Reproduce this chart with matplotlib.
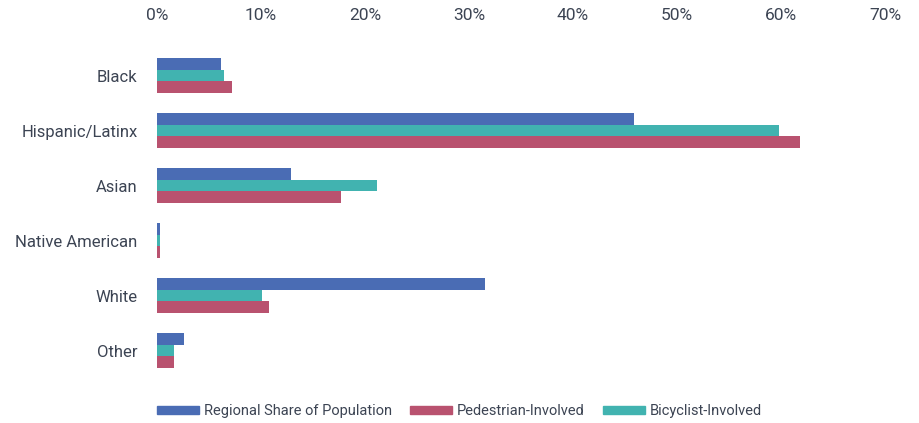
import matplotlib
matplotlib.use("Agg")
import matplotlib.pyplot as plt
import numpy as np
from matplotlib.patches import Patch

categories = ["Black", "Hispanic/Latinx", "Asian", "Native American", "White", "Other"]
population = [6.2, 45.9, 12.9, 0.3, 31.5, 2.6]
bicyclist = [6.4, 59.8, 21.2, 0.3, 10.1, 1.6]
pedestrian = [7.2, 61.8, 17.7, 0.3, 10.8, 1.6]
xticks = [0, 10, 20, 30, 40, 50, 60, 70]
xtick_labels = ["0%", "10%", "20%", "30%", "40%", "50%", "60%", "70%"]

BLUE = "#4a6cb4"
TEAL = "#41b3b0"
PINK = "#b9526f"
TXT = "#3c4453"

plt.rcParams['font.family'] = ['Roboto', 'DejaVu Sans']

W, H = 920, 423
fig = plt.figure(figsize=(W / 100, H / 100), dpi=100)
ax = fig.add_axes([157 / W, (H - 378) / H, 728 / W, 330 / H])

y = np.arange(len(categories))
bh = 0.212
ax.barh(y - bh, population, height=bh, color=BLUE)
ax.barh(y, bicyclist, height=bh, color=TEAL)
ax.barh(y + bh, pedestrian, height=bh, color=PINK)

ax.set_xlim(0, 70)
ax.set_ylim(len(categories) - 0.5, -0.5)
ax.set_yticks(y)
ax.set_yticklabels(categories, fontsize=12, color=TXT)
ax.set_xticks(xticks)
ax.set_xticklabels(xtick_labels, fontsize=12.5, color=TXT)
for lbl in ax.get_xticklabels():
    lbl.set_x(lbl.get_position()[0])
ax.xaxis.tick_top()
ax.tick_params(axis='x', length=0, pad=18)
ax.tick_params(axis='y', length=0, pad=14)
for s in ax.spines.values():
    s.set_visible(False)

handles = [Patch(color=BLUE, label="Regional Share of Population"),
           Patch(color=PINK, label="Pedestrian-Involved"),
           Patch(color=TEAL, label="Bicyclist-Involved")]
leg = fig.legend(handles=handles, loc='center left', bbox_to_anchor=(157 / W, (H - 411) / H),
                 ncol=3, frameon=False, fontsize=10.5, handlelength=2.9, handleheight=0.45,
                 handletextpad=0.3, columnspacing=1.25, borderaxespad=0, borderpad=0)
for t in leg.get_texts():
    t.set_color(TXT)

fig.savefig("out.png", dpi=100)
